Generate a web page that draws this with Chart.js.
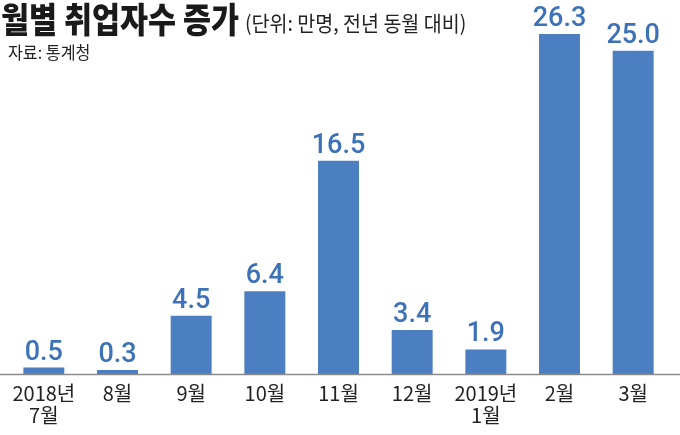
<!DOCTYPE html>
<html>
<head>
<meta charset="utf-8">
<script src="https://cdn.jsdelivr.net/npm/chart.js@4"></script>
<style>
  body { margin: 0; background: #fff; }
  #wrap { position: relative; width: 680px; height: 435px; overflow: hidden; }
  #chart { position: absolute; left: 0; top: 0; }
  .txt { position: absolute; white-space: nowrap; transform-origin: left top; font-family: "Noto Sans CJK KR", sans-serif; }
  #title { left: 1px; top: -8px; font-size: 35px; font-weight: 900; color: #1a1a1a; transform: scaleX(0.87); }
  #unit { left: 245px; top: 7px; font-size: 21px; color: #222; transform: scaleX(0.93); }
  #source { left: 8px; top: 39px; font-size: 17px; color: #222; transform: scaleX(0.95); }
</style>
</head>
<body>
<div id="wrap">
  <canvas id="chart" width="680" height="435"></canvas>
  <div class="txt" id="title">월별 취업자수 증가</div>
  <div class="txt" id="unit">(단위: 만명, 전년 동월 대비)</div>
  <div class="txt" id="source">자료: 통계청</div>
</div>
<script>
const months = [['2018년', '7월'], '8월', '9월', '10월', '11월', '12월', ['2019년', '1월'], '2월', '3월'];
const jobGrowth = [0.5, 0.3, 4.5, 6.4, 16.5, 3.4, 1.9, 26.3, 25.0];

const barColor = '#4b7fc1';
const labelColor = '#3d72b8';

// value labels above each bar
const valueLabels = {
  id: 'valueLabels',
  afterDatasetsDraw(chart) {
    const ctx = chart.ctx;
    const meta = chart.getDatasetMeta(0);
    ctx.save();
    ctx.font = '500 27px Roboto';
    ctx.fillStyle = labelColor;
    ctx.textAlign = 'center';
    ctx.textBaseline = 'alphabetic';
    meta.data.forEach((bar, i) => {
      ctx.fillText(jobGrowth[i].toFixed(1), bar.x, bar.y - 8);
    });
    ctx.restore();
  }
};

// baseline across the full width
const baseLine = {
  id: 'baseLine',
  afterDatasetsDraw(chart) {
    const ctx = chart.ctx;
    const y = Math.round(chart.scales.y.getPixelForValue(0)) + 0.5;
    ctx.save();
    ctx.strokeStyle = '#8a8a8a';
    ctx.lineWidth = 1.5;
    ctx.beginPath();
    ctx.moveTo(0, y);
    ctx.lineTo(chart.width, y);
    ctx.stroke();
    ctx.restore();
  }
};

new Chart(document.getElementById('chart'), {
  type: 'bar',
  data: {
    labels: months,
    datasets: [{
      data: jobGrowth,
      backgroundColor: barColor,
      categoryPercentage: 1,
      barPercentage: 0.556
    }]
  },
  options: {
    responsive: false,
    animation: false,
    layout: { padding: { left: 7, right: 10, top: 12, bottom: 1 } },
    plugins: { legend: { display: false }, tooltip: { enabled: false } },
    scales: {
      x: {
        grid: { display: false, drawTicks: false },
        border: { display: false },
        ticks: {
          padding: 8,
          color: '#222',
          font: { family: '"Noto Sans CJK KR"', size: 20, lineHeight: 1.1 },
          maxRotation: 0,
          autoSkip: false
        }
      },
      y: { display: false, min: 0, max: 28 }
    }
  },
  plugins: [valueLabels, baseLine]
});
</script>
</body>
</html>
